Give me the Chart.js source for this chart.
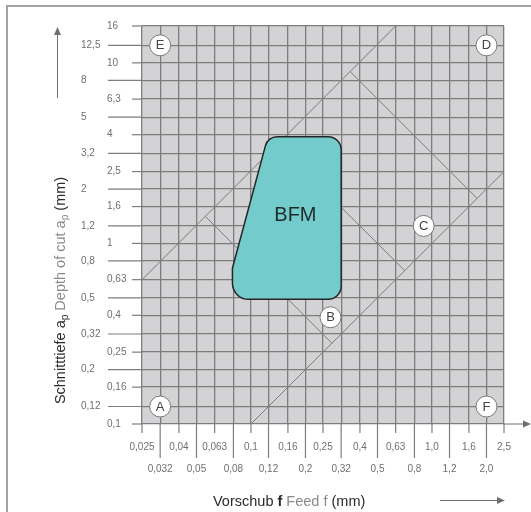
<!DOCTYPE html>
<html>
<head>
<meta charset="utf-8">
<script src="https://cdn.jsdelivr.net/npm/chart.js@4"></script>
<style>
  html, body { margin: 0; padding: 0; background: #fff; }
  canvas { display: block; }
</style>
</head>
<body>
<canvas id="chart" width="531" height="512" style="width:531px;height:512px"></canvas>
<script>
// axis ticks (R10 series), labels with comma decimals
const xTickValues = [0.025, 0.0315, 0.04, 0.05, 0.063, 0.08, 0.1, 0.125, 0.16, 0.2, 0.25,
  0.315, 0.4, 0.5, 0.63, 0.8, 1.0, 1.25, 1.6, 2.0, 2.5];
const xTickLabels = ["0,025", "0,032", "0,04", "0,05", "0,063", "0,08", "0,1", "0,12", "0,16", "0,2", "0,25",
  "0,32", "0,4", "0,5", "0,63", "0,8", "1,0", "1,2", "1,6", "2,0", "2,5"];
const yTickValues = [0.1, 0.125, 0.16, 0.2, 0.25, 0.315, 0.4, 0.5, 0.63, 0.8, 1, 1.25,
  1.6, 2, 2.5, 3.15, 4, 5, 6.3, 8, 10, 12.5, 16];
const yTickLabels = ["0,1", "0,12", "0,16", "0,2", "0,25", "0,32", "0,4", "0,5", "0,63", "0,8", "1", "1,2",
  "1,6", "2", "2,5", "3,2", "4", "5", "6,3", "8", "10", "12,5", "16"];

// guide lines: [start, end] for feed f and depth ap
const guideFeed = [[0.025, 0.63], [0.1, 2.5], [0.056, 0.28], [0.14, 0.705], [0.355, 1.77]];
const guideDepth = [[0.63, 16], [0.1, 2.5], [1.41, 0.28], [3.55, 0.71], [8.9, 1.78]];

// BFM application area outline
const bfmFeed = [0.079, 0.315, 0.315, 0.124, 0.079];
const bfmDepth = [0.49, 0.49, 3.9, 3.9, 0.73];

// lettered markers
const markerLabels = ["A", "B", "C", "D", "E", "F"];
const markerFeed = [0.0315, 0.275, 0.9, 2.0, 0.0315, 2.0];
const markerDepth = [0.125, 0.39, 1.25, 12.5, 12.5, 0.125];

const FONT = "'Liberation Sans', Arial, sans-serif";
const BLACK = "#2b2b2b";
const GREY = "#8a8a8a";
const LINE = "#7d7d7d";

const datasets = guideFeed.map(function(f, i) {
  return {
    type: "scatter",
    data: [{x: f[0], y: guideDepth[i][0]}, {x: f[1], y: guideDepth[i][1]}],
    showLine: true,
    borderColor: "#7a7a7a",
    borderWidth: 1,
    pointRadius: 0
  };
});
datasets.push({
  type: "scatter",
  data: markerFeed.map((f, i) => ({x: f, y: markerDepth[i]})),
  pointRadius: 10.5,
  pointBackgroundColor: "#ffffff",
  pointBorderColor: "#7a7a7a",
  pointBorderWidth: 1
});

function setTicks(values) {
  return function(axis) { axis.ticks = values.map(v => ({value: v})); };
}

function arrow(ctx, x1, y1, x2, y2) {
  const ang = Math.atan2(y2 - y1, x2 - x1);
  ctx.beginPath();
  ctx.moveTo(x1, y1);
  ctx.lineTo(x2 - 6 * Math.cos(ang), y2 - 6 * Math.sin(ang));
  ctx.stroke();
  ctx.beginPath();
  ctx.moveTo(x2, y2);
  ctx.lineTo(x2 - 8 * Math.cos(ang) + 3.5 * Math.sin(ang), y2 - 8 * Math.sin(ang) - 3.5 * Math.cos(ang));
  ctx.lineTo(x2 - 8 * Math.cos(ang) - 3.5 * Math.sin(ang), y2 - 8 * Math.sin(ang) + 3.5 * Math.cos(ang));
  ctx.closePath();
  ctx.fill();
}

// draw a row of text parts, subscripts smaller and lowered
function richText(ctx, parts, x, y, size) {
  let cx = x;
  parts.forEach(function(p) {
    const s = p.sub ? size * 0.7 : size;
    ctx.font = (p.bold ? "bold " : "") + s + "px " + FONT;
    ctx.fillStyle = p.color;
    ctx.fillText(p.t, cx, y + (p.sub ? size * 0.22 : 0));
    cx += ctx.measureText(p.t).width;
  });
  return cx - x;
}

const decor = {
  id: "decor",
  beforeDraw(chart) {
    const ctx = chart.ctx, a = chart.chartArea;
    ctx.save();
    ctx.fillStyle = "#ffffff";
    ctx.fillRect(0, 0, chart.width, chart.height);
    ctx.fillStyle = "#d3d3d5";
    ctx.fillRect(a.left, a.top, a.right - a.left, a.bottom - a.top);
    // frame
    ctx.fillStyle = "#a2a2a2";
    ctx.fillRect(6, 5, chart.width - 6, 2);
    ctx.fillRect(6, 5, 2, chart.height - 5);
    ctx.restore();
  },
  afterDatasetsDraw(chart) {
    const ctx = chart.ctx;
    const xs = chart.scales.x, ys = chart.scales.y;
    const pts = bfmFeed.map((f, i) => ({x: xs.getPixelForValue(f), y: ys.getPixelForValue(bfmDepth[i])}));
    const radii = [16, 13, 13, 12, 3];
    const n = pts.length;
    ctx.save();
    ctx.beginPath();
    ctx.moveTo((pts[n - 1].x + pts[0].x) / 2, (pts[n - 1].y + pts[0].y) / 2);
    for (let i = 0; i < n; i++) {
      const p = pts[i], q = pts[(i + 1) % n];
      ctx.arcTo(p.x, p.y, q.x, q.y, radii[i]);
    }
    ctx.closePath();
    ctx.fillStyle = "#73cbcc";
    ctx.fill();
    ctx.lineWidth = 1.5;
    ctx.strokeStyle = "#262626";
    ctx.stroke();

    ctx.fillStyle = "#1f2a2a";
    ctx.font = "20px " + FONT;
    ctx.textAlign = "center";
    ctx.textBaseline = "middle";
    ctx.fillText("BFM", xs.getPixelForValue(0.176), ys.getPixelForValue(1.42));

    // marker letters
    ctx.fillStyle = "#444";
    ctx.font = "13px " + FONT;
    markerLabels.forEach(function(l, i) {
      ctx.fillText(l, xs.getPixelForValue(markerFeed[i]), ys.getPixelForValue(markerDepth[i]) + 0.5);
    });
    ctx.restore();
  },
  afterDraw(chart) {
    const ctx = chart.ctx, a = chart.chartArea;
    const xs = chart.scales.x, ys = chart.scales.y;
    ctx.save();
    ctx.strokeStyle = LINE;
    ctx.fillStyle = LINE;
    ctx.lineWidth = 1.2;
    // tick marks: short for the inner label row, long for the outer one
    xs.ticks.forEach(function(t, i) {
      const px = xs.getPixelForValue(t.value);
      ctx.beginPath();
      ctx.moveTo(px, a.bottom);
      ctx.lineTo(px, a.bottom + (i % 2 ? 34 : 9));
      ctx.stroke();
    });
    ys.ticks.forEach(function(t, i) {
      const py = ys.getPixelForValue(t.value);
      ctx.beginPath();
      ctx.moveTo(a.left, py);
      ctx.lineTo(a.left - (i % 2 ? 34 : 10), py);
      ctx.stroke();
    });
    // axis arrows
    ctx.lineWidth = 1;
    ctx.strokeStyle = "#6f6f6f";
    ctx.fillStyle = "#6f6f6f";
    arrow(ctx, a.right, a.bottom, 531, a.bottom);
    arrow(ctx, 440, 500.5, 505, 500.5);
    arrow(ctx, 57.5, 98, 57.5, 27);

    // x title
    ctx.textBaseline = "alphabetic";
    ctx.textAlign = "left";
    richText(ctx, [
      {t: "Vorschub", color: BLACK},
      {t: " f", color: BLACK, bold: true},
      {t: " Feed f", color: GREY},
      {t: " (mm)", color: BLACK}
    ], 213, 506, 14.5);

    // y title, rotated
    const yParts = [
      {t: "Schnitttiefe a", color: BLACK},
      {t: "p", color: BLACK, sub: true},
      {t: " Depth of cut a", color: GREY},
      {t: "p", color: GREY, sub: true},
      {t: " (mm)", color: BLACK}
    ];
    let w = 0;
    yParts.forEach(function(p) {
      ctx.font = (p.sub ? 14.5 * 0.7 : 14.5) + "px " + FONT;
      w += ctx.measureText(p.t).width;
    });
    ctx.translate(65, 290.5);
    ctx.rotate(-Math.PI / 2);
    richText(ctx, yParts, -w / 2, 0, 14.5);
    ctx.restore();
  }
};

const tickFont = {family: FONT, size: 10};
const tickColor = "#6f6f6f";

new Chart(document.getElementById("chart"), {
  type: "scatter",
  data: {datasets: datasets},
  plugins: [decor],
  options: {
    responsive: false,
    animation: false,
    devicePixelRatio: 1,
    layout: {padding: {left: 81, right: 27, top: 26, bottom: 34}},
    plugins: {legend: {display: false}, tooltip: {enabled: false}},
    scales: {
      x: {
        type: "logarithmic", position: "bottom", weight: 0,
        min: 0.025, max: 2.5,
        afterBuildTicks: setTicks(xTickValues),
        afterFit(s) { s.height = 34; s.paddingLeft = 0; s.paddingRight = 0; },
        grid: {color: LINE, lineWidth: 1.3, drawTicks: false},
        border: {display: false},
        ticks: {
          autoSkip: false, maxRotation: 0, padding: 17, font: tickFont, color: tickColor,
          callback: (v, i) => (i % 2 ? "" : xTickLabels[i])
        }
      },
      x2: {
        type: "logarithmic", position: "bottom", weight: 1,
        min: 0.025, max: 2.5,
        afterBuildTicks: setTicks(xTickValues),
        afterFit(s) { s.height = 20; s.paddingLeft = 0; s.paddingRight = 0; },
        grid: {display: false, drawTicks: false},
        border: {display: false},
        ticks: {
          autoSkip: false, maxRotation: 0, padding: 5, font: tickFont, color: tickColor,
          callback: (v, i) => (i % 2 ? xTickLabels[i] : "")
        }
      },
      y: {
        type: "logarithmic", position: "left", weight: 0,
        min: 0.1, max: 16,
        afterBuildTicks: setTicks(yTickValues),
        afterFit(s) { s.width = 35; s.paddingTop = 0; s.paddingBottom = 0; },
        grid: {color: LINE, lineWidth: 1.3, drawTicks: false},
        border: {display: false},
        ticks: {
          autoSkip: false, crossAlign: "far", font: tickFont, color: tickColor,
          callback: (v, i) => (i % 2 ? "" : yTickLabels[i])
        }
      },
      y2: {
        type: "logarithmic", position: "left", weight: 1,
        min: 0.1, max: 16,
        afterBuildTicks: setTicks(yTickValues),
        afterFit(s) { s.width = 26; s.paddingTop = 0; s.paddingBottom = 0; },
        grid: {display: false, drawTicks: false},
        border: {display: false},
        ticks: {
          autoSkip: false, crossAlign: "far", font: tickFont, color: tickColor,
          callback: (v, i) => (i % 2 ? yTickLabels[i] : "")
        }
      }
    }
  }
});
</script>
</body>
</html>
